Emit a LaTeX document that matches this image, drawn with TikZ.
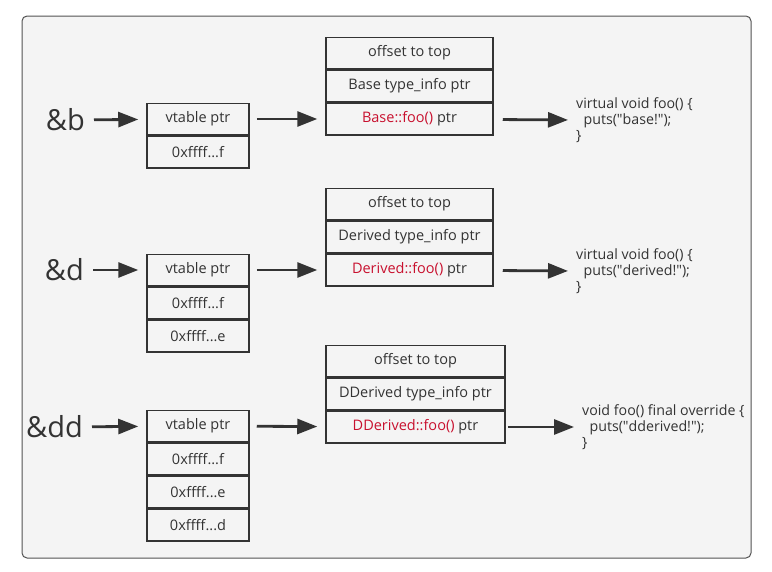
\documentclass[tikz,border=0pt]{standalone}
\usepackage{fontspec}
\setmainfont{Open Sans}
\usepackage{tikz}
\usetikzlibrary{arrows.meta, positioning}

\definecolor{paper}{HTML}{F4F4F4}
\definecolor{ink}{HTML}{333333}
\definecolor{fnred}{HTML}{C8102E}

\tikzset{
  cell/.style={draw=ink, line width=1.5pt, minimum height=31.5pt, inner sep=0pt,
    text=ink, font=\fontsize{14.5}{16}\selectfont},
  vcell/.style={cell, minimum width=102pt},
  tcell/.style={cell, minimum width=167pt},
  ptr/.style={draw=ink, line width=2.8pt, -{Triangle[length=20pt,width=15pt]},
    shorten <=7pt, shorten >=8pt},
  ref/.style={text=ink, anchor=east, inner sep=0pt, font=\fontsize{29}{31}\selectfont},
  code/.style={text=ink, anchor=west, align=left, inner sep=0pt,
    font=\fontsize{14.2}{16}\selectfont}
}

\begin{document}
\begin{tikzpicture}[x=1pt, y=-1pt]
  \useasboundingbox (0,0) rectangle (772,571);
  \draw[draw=ink!85, fill=paper, line width=1pt, rounded corners=5pt] (22,16) rectangle (751,558);

  % Base
  \node[ref] (b) at (85,120) {\&b};
  \node[vcell] (bv1) at (198,119) {vtable ptr};
  \node[vcell, below=0pt of bv1] (bv2) {0xffff...f};
  \node[tcell] (bt3) at (409.5,119) {{\color{fnred}Base::foo()} ptr};
  \node[tcell, above=0pt of bt3] (bt2) {Base type\_info ptr};
  \node[tcell, above=0pt of bt2] (bt1) {offset to top};
  \node[code] (bc) at (576,120) {virtual void foo() \{\\\ \ puts(\textquotedbl base!\textquotedbl);\\\}};
  \draw[ptr, shorten <=9pt] (b) -- (bv1);
  \draw[ptr] (bv1) -- (bt3);
  \draw[ptr, shorten <=9pt] (bt3) -- (bc.west);

  % Derived
  \node[ref] (d) at (84,270) {\&d};
  \node[vcell] (dv1) at (198,270) {vtable ptr};
  \node[vcell, below=0pt of dv1] (dv2) {0xffff...f};
  \node[vcell, below=0pt of dv2] (dv3) {0xffff...e};
  \node[tcell] (dt3) at (409.5,270) {{\color{fnred}Derived::foo()} ptr};
  \node[tcell, above=0pt of dt3] (dt2) {Derived type\_info ptr};
  \node[tcell, above=0pt of dt2] (dt1) {offset to top};
  \node[code] (dc) at (576,271) {virtual void foo() \{\\\ \ puts(\textquotedbl derived!\textquotedbl);\\\}};
  \draw[ptr, shorten <=9pt] (d) -- (dv1);
  \draw[ptr] (dv1) -- (dt3);
  \draw[ptr, shorten <=9pt] (dt3) -- (dc.west);

  % DDerived
  \node[ref] (dd) at (83,427) {\&dd};
  \node[vcell] (ddv1) at (198,426) {vtable ptr};
  \node[vcell, below=0pt of ddv1] (ddv2) {0xffff...f};
  \node[vcell, below=0pt of ddv2] (ddv3) {0xffff...e};
  \node[vcell, below=0pt of ddv3] (ddv4) {0xffff...d};
  \node[tcell, minimum width=179pt] (ddt3) at (415.5,427) {{\color{fnred}DDerived::foo()} ptr};
  \node[tcell, minimum width=179pt, above=0pt of ddt3] (ddt2) {DDerived type\_info ptr};
  \node[tcell, minimum width=179pt, above=0pt of ddt2] (ddt1) {offset to top};
  \node[code] (ddc) at (582,427) {void foo() final override \{\\\ \ puts(\textquotedbl dderived!\textquotedbl);\\\}};
  \draw[ptr, shorten <=9pt] (dd) -- (ddv1);
  \draw[ptr] (ddv1) -- (ddt3);
  \draw[ptr, shorten <=2pt] (ddt3) -- (ddc.west);
\end{tikzpicture}
\end{document}
